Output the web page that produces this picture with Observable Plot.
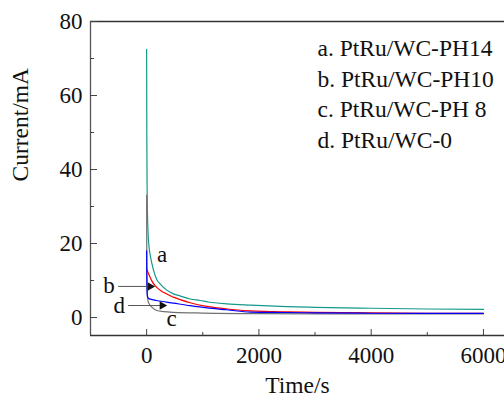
<!DOCTYPE html>
<html><head><meta charset="utf-8">
<script src="https://cdn.jsdelivr.net/npm/d3@7"></script>
<script src="https://cdn.jsdelivr.net/npm/@observablehq/plot@0.6"></script>
<style>body{margin:0;background:#fff;overflow:hidden} svg text{font-family:'Liberation Serif','Times New Roman',serif !important;}</style>
</head><body><div id="chart"></div>
<script>
// Series data (time in s, current in mA)
const seriesNames = ["a", "b", "c", "d"];
const tA = [0, 3, 8, 15, 25, 40, 62, 93, 121, 180, 240, 360, 478, 600, 775, 953, 1100, 1430, 1850, 2500, 3000, 4000, 5000, 6000];
const iA = [72.5, 50, 36, 28, 23, 19.5, 17, 14.6, 12.9, 10.3, 9.1, 7.4, 6.4, 5.8, 5.0, 4.6, 4.2, 3.7, 3.35, 2.95, 2.75, 2.5, 2.3, 2.2];
const tB = [0, 30, 62, 100, 151, 220, 300, 478, 775, 1073, 1430, 1850, 2500, 3000, 4000, 5000, 6000];
const iB = [13.2, 12, 10.9, 9.7, 8.6, 7.6, 6.8, 5.5, 4.0, 3.0, 2.3, 1.8, 1.5, 1.4, 1.25, 1.15, 1.1];
const tC = [0, 3, 10, 32, 93, 180, 300, 478, 1000, 2000, 4000, 6000];
const iC = [33, 15, 6.5, 4.1, 2.8, 1.9, 1.6, 1.4, 1.2, 1.05, 1.0, 1.0];
const tD = [0, 5, 15, 40, 180, 478, 775, 1073, 1430, 1850, 2500, 3000, 4000, 5000, 6000];
const iD = [18, 9, 5.7, 5.1, 4.6, 3.9, 3.2, 2.6, 2.1, 1.45, 1.35, 1.25, 1.15, 1.1, 1.1];

const legendLabels = ["a. PtRu/WC-PH14", "b. PtRu/WC-PH10", "c. PtRu/WC-PH 8", "d. PtRu/WC-0"];
const xTicks = [0, 2000, 4000, 6000];
const xMinor = [1000, 3000, 5000];
const yTicks = [0, 20, 40, 60, 80];
const yMinor = [10, 30, 50, 70];
const xDomain = [-1000, 6375];
const yDomain = [-4.86, 80];

// Annotations: letter labels and arrows (data units)
const annLetters = ["a", "b", "c", "d"];
const annX = [276, -669, 446, -490];
const annY = [14.9, 6.5, -2.2, 1.1];
const arrowX1 = [-508, -330];
const arrowX2 = [116, 330];
const arrowY = [8.4, 3.24];

const palette = ["#139a8c", "#ff0000", "#707070", "#0000ff"];

const rows = [];
[[tA, iA], [tB, iB], [tC, iC], [tD, iD]].forEach(([ts, is], k) => {
  ts.forEach((t, j) => rows.push({t, i: is[j], s: seriesNames[k]}));
});
const ann = annLetters.map((l, k) => ({l, x: annX[k], y: annY[k]}));
const arrows = arrowX1.map((x1, k) => ({x1, x2: arrowX2[k], y: arrowY[k]}));

const font = "'Liberation Serif', 'Times New Roman', serif";
const noText = () => "";
const plain = d => String(d);

const chart = Plot.plot({
  width: 504,
  height: 401,
  marginLeft: 90,
  marginTop: 21,
  marginBottom: 66,
  marginRight: 0,
  style: {fontFamily: font, background: "#fff", color: "#111"},
  x: {domain: xDomain},
  y: {domain: yDomain},
  color: {domain: seriesNames, range: palette},
  marks: [
    // frame (top, left, bottom)
    Plot.ruleY([yDomain[1]], {stroke: "#333", strokeWidth: 1.3}),
    Plot.ruleY([yDomain[0]], {stroke: "#333", strokeWidth: 1.3}),
    Plot.ruleX([xDomain[0]], {stroke: "#555", strokeWidth: 1.3}),
    // tick labels
    Plot.axisY(yTicks, {tickSize: 0, tickPadding: 8, fontSize: 23, label: null, tickFormat: plain, fontFamily: font}),
    Plot.axisX(xTicks, {tickSize: 0, tickPadding: 11, fontSize: 23, label: null, tickFormat: plain, fontFamily: font}),
    // inward ticks
    Plot.axisY(yTicks, {tickSize: 7, dx: 7, tickFormat: noText, label: null, stroke: "#444"}),
    Plot.axisY(yMinor, {tickSize: 4, dx: 4, tickFormat: noText, label: null, stroke: "#444"}),
    Plot.axisX(xTicks, {tickSize: 6, dy: -6, tickFormat: noText, label: null, stroke: "#444"}),
    Plot.axisX(xMinor, {tickSize: 3, dy: -3, tickFormat: noText, label: null, stroke: "#444"}),
    // axis titles
    Plot.text(["Current/mA"], {frameAnchor: "left", dx: -70, dy: 3, rotate: -90, fontSize: 23.5, fill: "#111", fontFamily: font}),
    Plot.text(["Time/s"], {frameAnchor: "bottom", dy: 57, fontSize: 23.5, fill: "#111", fontFamily: font}),
    // curves
    Plot.line(rows, {x: "t", y: "i", z: "s", stroke: "s", strokeWidth: 1.2, curve: "monotone-x"}),
    // legend text
    Plot.text([legendLabels.join("\n")], {frameAnchor: "top-left", dx: 227, dy: 13, textAnchor: "start", lineAnchor: "top", lineHeight: 1.3, fontSize: 23.5, fill: "#111", fontFamily: font}),
    // annotation letters
    Plot.text(ann, {x: "x", y: "y", text: "l", lineAnchor: "bottom", fontSize: 23, fill: "#111", fontFamily: font}),
    // arrows
    Plot.link(arrows, {x1: "x1", x2: "x2", y1: "y", y2: "y", stroke: "#555", strokeWidth: 1}),
    Plot.dot(arrows, {x: "x2", y: "y", symbol: "triangle", rotate: 90, r: 3.2, dx: -3, fill: "#111", stroke: "none"})
  ]
});
document.getElementById("chart").appendChild(chart);
</script>
</body></html>
